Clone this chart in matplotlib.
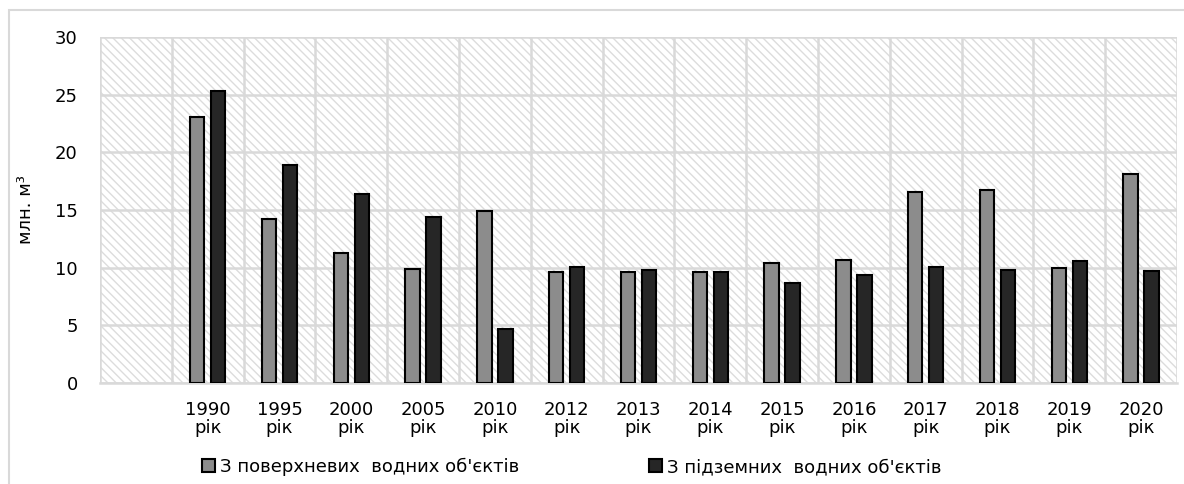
import numpy as np
import matplotlib.pyplot as plt
from matplotlib.patches import Rectangle

plt.rcParams['font.family'] = ['DejaVu Sans']
plt.rcParams['hatch.linewidth'] = 1.0

# водозабір, млн. м3
years = ["", "1990", "1995", "2000", "2005", "2010", "2012", "2013",
         "2014", "2015", "2016", "2017", "2018", "2019", "2020"]
surface = [np.nan, 23.1, 14.2, 11.3, 9.9, 14.9, 9.6, 9.6,
           9.6, 10.4, 10.7, 16.6, 16.7, 10.0, 18.1]
ground = [np.nan, 25.3, 18.9, 16.4, 14.4, 4.7, 10.1, 9.8,
          9.6, 8.7, 9.4, 10.1, 9.8, 10.6, 9.7]
labels = ["З поверхневих  водних об'єктів", "З підземних  водних об'єктів"]

W, H = 1184, 484
fig = plt.figure(figsize=(W / 100, H / 100), dpi=100)
fig.patches.append(Rectangle((9 / W, -0.1), 1.2, 1 - 10 / H + 0.1,
                             transform=fig.transFigure, fill=False,
                             edgecolor='#d9d9d9', linewidth=1.5))

ax = fig.add_axes([100 / W, 1 - 383 / H, 1077 / W, 346 / H])
ax.add_patch(Rectangle((0, 0), 1, 1, transform=ax.transAxes, facecolor='white',
                       edgecolor='#dcdcdc', linewidth=0, hatch='\\\\\\\\', zorder=0))

x = np.arange(len(years))
off, bw = 0.146, 0.2
ax.bar(x - off, surface, bw, color='#8c8c8c', edgecolor='black', linewidth=1.5,
       label=labels[0], zorder=3)
ax.bar(x + off, ground, bw, color='#262626', edgecolor='black', linewidth=1.5,
       label=labels[1], zorder=3)

ax.set_xlim(-0.5, len(years) - 0.5)
ax.set_ylim(0, 30)
ax.set_yticks(np.arange(0, 31, 5))
ax.set_xticks(x[1:])
ax.set_xticklabels([y + "\nрік" for y in years[1:]], linespacing=1.0)
ax.set_xticks(np.arange(-0.5, len(years), 1), minor=True)
ax.tick_params(axis='both', which='both', length=0, labelsize=13, colors='black')
ax.tick_params(axis='x', pad=13)
ax.tick_params(axis='y', pad=16)
ax.grid(True, axis='y', which='major', color='#d9d9d9', linewidth=1.8, zorder=1)
ax.grid(True, axis='x', which='minor', color='#d9d9d9', linewidth=1.8, zorder=1)
ax.set_axisbelow(True)
for s in ['top', 'left', 'right']:
    ax.spines[s].set_visible(False)
ax.spines['bottom'].set_color('#d9d9d9')
ax.spines['bottom'].set_linewidth(1.8)

ax.set_ylabel("млн. м³", fontsize=13)
ax.yaxis.set_label_coords(-65 / 1077, 0.5)

h, l = ax.get_legend_handles_labels()
fig.legend(h, l, loc='center', bbox_to_anchor=(572 / W, 1 - 467 / H), ncol=2,
           frameon=False, fontsize=13, handlelength=0.7, handleheight=0.7,
           handletextpad=0.3, columnspacing=7.2)

fig.savefig('out.png', dpi=100)
